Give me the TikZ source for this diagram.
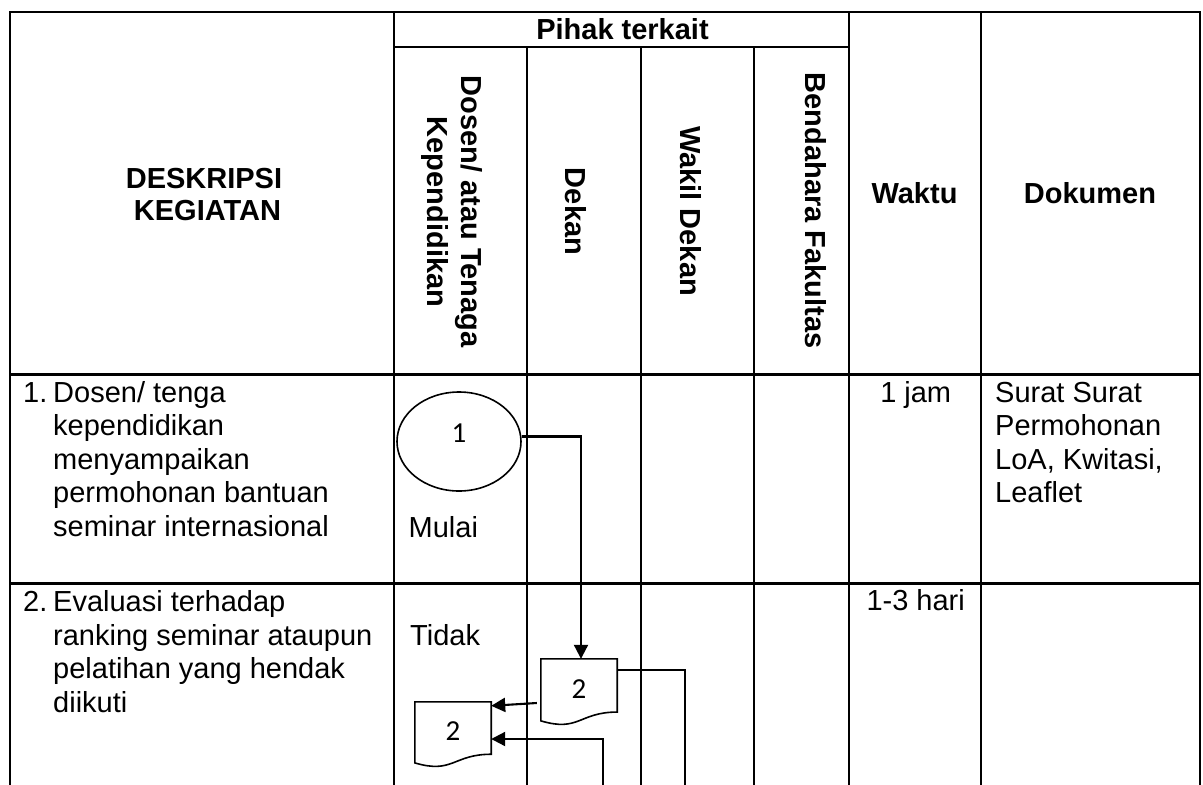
\documentclass[tikz,border=0pt]{standalone}
\usepackage{fontspec}
\setmainfont{Liberation Sans}
\newfontfamily\calib{Carlito}
\usetikzlibrary{arrows.meta,shapes.geometric,calc}
\newcommand\docoutline[1]{%
  \draw[shapeline] (#1.north west) -- (#1.north east)
    -- ($(#1.north east)!0.802!(#1.south east)$)
    .. controls ($(#1.north)!0.802!(#1.south)$) and ($(#1.north)!1.108!(#1.south)$)
    .. ($(#1.north west)!0.934!(#1.south west)$) -- cycle;}
\begin{document}
\begin{tikzpicture}[x=1pt,y=-1pt,
  grid/.style={line width=2.3pt, line cap=rect},
  shapeline/.style={line width=1.6pt},
  flow/.style={line width=2.1pt},
  arr/.style={flow, -{Triangle[length=14pt,width=14pt]}},
  body/.style={font=\fontsize{29}{33.5}\selectfont, inner sep=0pt},
  head/.style={font=\fontsize{29}{33}\selectfont\bfseries, inner sep=0pt},
  vhead/.style={head, rotate=-90, anchor=base},
  num/.style={font=\calib\fontsize{29}{32}\selectfont},
  docbox/.style={minimum width=76pt, minimum height=66pt, inner sep=0pt, num},
]
\useasboundingbox (0,0) rectangle (1203,785);

% table grid
\draw[grid] (10,785) -- (10,12) -- (1200,12) -- (1200,785);
\draw[grid] (394,12) -- (394,785);
\draw[grid] (849,12) -- (849,785);
\draw[grid] (981,12) -- (981,785);
\draw[grid] (527,47) -- (527,785);
\draw[grid] (641,47) -- (641,785);
\draw[grid] (754,47) -- (754,785);
\draw[grid] (394,47) -- (849,47);
\draw[grid] (10,374.5) -- (1200,374.5);
\draw[grid] (10,583.5) -- (1200,583.5);

% headers
\node[head, anchor=base] (hd1) at (204,188) {DESKRIPSI};
\node[head, anchor=base] (hd2) at (207.5,220.7) {KEGIATAN};
\node[head, anchor=base] (hpt) at (622.5,39.3) {Pihak terkait};
\node[head, anchor=base] (hw) at (914.5,203) {Waktu};
\node[head, anchor=base] (hdok) at (1090,203) {Dokumen};
\node[vhead] (v1a) at (461,211.5) {Dosen/ atau Tenaga};
\node[vhead] (v1b) at (427,212) {Kependidikan};
\node[vhead] (v2) at (565,211.5) {Dekan};
\node[vhead] (v3) at (680,211) {Wakil Dekan};
\node[vhead] (v4) at (805,210.5) {Bendahara Fakultas};

% row 1 text
\node[body, anchor=base west] (r1n) at (23,402) {1.};
\node[body, anchor=base west] (r1a) at (53,402) {Dosen/ tenga};
\node[body, anchor=base west] (r1b) at (53,435.5) {kependidikan};
\node[body, anchor=base west] (r1c) at (53,469) {menyampaikan};
\node[body, anchor=base west] (r1d) at (53,502.5) {permohonan bantuan};
\node[body, anchor=base west] (r1e) at (53,536) {seminar internasional};
\node[body, anchor=base] (w1) at (915.7,402.3) {1 jam};
\node[body, anchor=base west] (k1a) at (995,402.3) {Surat Surat};
\node[body, anchor=base west] (k1b) at (995,435.7) {Permohonan};
\node[body, anchor=base west] (k1c) at (995,469) {LoA, Kwitasi,};
\node[body, anchor=base west] (k1d) at (995,502.3) {Leaflet};
\node[body, anchor=base west] (mulai) at (408.5,537.3) {Mulai};

% row 2 text
\node[body, anchor=base west] (r2n) at (23,611.7) {2.};
\node[body, anchor=base west] (r2a) at (53,611.7) {Evaluasi terhadap};
\node[body, anchor=base west] (r2b) at (53,645.2) {ranking seminar ataupun};
\node[body, anchor=base west] (r2c) at (53,678.7) {pelatihan yang hendak};
\node[body, anchor=base west] (r2d) at (53,712.2) {diikuti};
\node[body, anchor=base] (w2) at (915.7,610.7) {1-3 hari};
\node[body, anchor=base west] (tidak) at (410,645) {Tidak};

% flow shapes
\node[ellipse, draw, shapeline, minimum width=124pt, minimum height=99pt, inner sep=0pt, num]
  (start) at (459,441.5) {\raisebox{8.5pt}[\height][\depth]{1}};
\node[docbox] (d1) at (579,692) {\raisebox{3pt}[\height][\depth]{2}};
\docoutline{d1}
\node[docbox, minimum height=65pt] (d2) at (453,734.5) {\raisebox{3pt}[\height][\depth]{2}};
\docoutline{d2}

% connectors
\coordinate (e3) at (685,785);
\coordinate (e4) at (603,785);
\draw[arr] ([yshift=5pt]start.east) -| ([xshift=2pt]d1.north);
\draw[arr] ([xshift=-4pt,yshift=-11pt]d1.west) -- ([yshift=-4pt]d2.north east);
\draw[flow] ([yshift=-11pt]d1.north east) -| (e3);
\draw[arr] (e4) |- ([yshift=-4.5pt]d2.east);
\end{tikzpicture}
\end{document}
